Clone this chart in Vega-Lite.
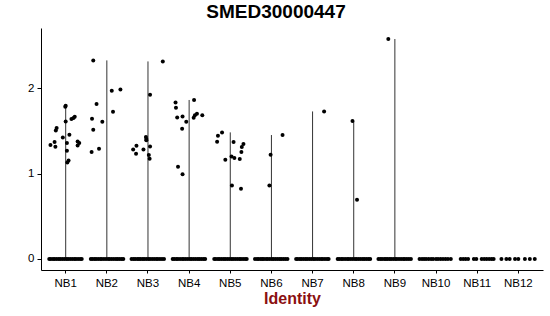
{
  "$schema": "https://vega.github.io/schema/vega-lite/v6.json",
  "autosize": "none",
  "width": 502,
  "height": 242,
  "padding": {"left": 41, "top": 28, "right": 7, "bottom": 46},
  "title": {"text": "SMED30000447", "font": "Liberation Sans", "fontSize": 19, "fontWeight": "bold", "color": "black", "anchor": "middle", "frame": "group", "dx": -16, "offset": 6},
  "config": {"view": {"stroke": null}, "axis": {"labelFont": "Liberation Sans", "titleFont": "Liberation Sans", "grid": false, "domainColor": "black", "tickColor": "black", "labelColor": "black"}},
  "data": {
    "values": [
      {"id": "NB1", "v": 1.333, "j": -0.37}, {"id": "NB1", "v": 1.368, "j": -0.27}, {"id": "NB1", "v": 1.313, "j": -0.25}, {"id": "NB1", "v": 1.504, "j": -0.24}, {"id": "NB1", "v": 1.532, "j": -0.22}, {"id": "NB1", "v": 1.422, "j": -0.07}, {"id": "NB1", "v": 1.780, "j": -0.01}, {"id": "NB1", "v": 1.792, "j": 0.0}, {"id": "NB1", "v": 1.609, "j": 0.0}, {"id": "NB1", "v": 1.357, "j": 0.03}, {"id": "NB1", "v": 1.267, "j": 0.03}, {"id": "NB1", "v": 1.153, "j": 0.07}, {"id": "NB1", "v": 1.130, "j": 0.04}, {"id": "NB1", "v": 1.454, "j": 0.09}, {"id": "NB1", "v": 1.637, "j": 0.14}, {"id": "NB1", "v": 1.649, "j": 0.19}, {"id": "NB1", "v": 1.664, "j": 0.22}, {"id": "NB1", "v": 1.375, "j": 0.29}, {"id": "NB1", "v": 1.357, "j": 0.33}, {"id": "NB1", "v": 1.329, "j": 0.29},
      {"id": "NB2", "v": 2.323, "j": -0.33}, {"id": "NB2", "v": 1.813, "j": -0.25}, {"id": "NB2", "v": 1.641, "j": -0.36}, {"id": "NB2", "v": 1.512, "j": -0.33}, {"id": "NB2", "v": 1.606, "j": -0.11}, {"id": "NB2", "v": 1.251, "j": -0.37}, {"id": "NB2", "v": 1.290, "j": -0.19}, {"id": "NB2", "v": 1.968, "j": 0.12}, {"id": "NB2", "v": 1.723, "j": 0.15}, {"id": "NB2", "v": 1.984, "j": 0.33},
      {"id": "NB3", "v": 2.311, "j": 0.36}, {"id": "NB3", "v": 1.922, "j": 0.05}, {"id": "NB3", "v": 1.282, "j": -0.36}, {"id": "NB3", "v": 1.325, "j": -0.28}, {"id": "NB3", "v": 1.232, "j": -0.29}, {"id": "NB3", "v": 1.282, "j": -0.11}, {"id": "NB3", "v": 1.427, "j": -0.05}, {"id": "NB3", "v": 1.404, "j": -0.04}, {"id": "NB3", "v": 1.388, "j": -0.04}, {"id": "NB3", "v": 1.317, "j": 0.05}, {"id": "NB3", "v": 1.216, "j": 0.02}, {"id": "NB3", "v": 1.173, "j": 0.04},
      {"id": "NB4", "v": 1.860, "j": 0.12}, {"id": "NB4", "v": 1.832, "j": -0.33}, {"id": "NB4", "v": 1.770, "j": -0.32}, {"id": "NB4", "v": 1.656, "j": -0.29}, {"id": "NB4", "v": 1.668, "j": -0.16}, {"id": "NB4", "v": 1.606, "j": -0.07}, {"id": "NB4", "v": 1.524, "j": -0.17}, {"id": "NB4", "v": 1.653, "j": 0.11}, {"id": "NB4", "v": 1.680, "j": 0.14}, {"id": "NB4", "v": 1.699, "j": 0.19}, {"id": "NB4", "v": 1.680, "j": 0.32}, {"id": "NB4", "v": 1.080, "j": -0.27}, {"id": "NB4", "v": 0.990, "j": -0.16},
      {"id": "NB5", "v": 1.481, "j": -0.20}, {"id": "NB5", "v": 1.442, "j": -0.30}, {"id": "NB5", "v": 1.372, "j": -0.32}, {"id": "NB5", "v": 1.161, "j": -0.12}, {"id": "NB5", "v": 1.368, "j": 0.08}, {"id": "NB5", "v": 1.200, "j": 0.03}, {"id": "NB5", "v": 1.181, "j": 0.10}, {"id": "NB5", "v": 1.170, "j": 0.23}, {"id": "NB5", "v": 1.251, "j": 0.27}, {"id": "NB5", "v": 1.310, "j": 0.28}, {"id": "NB5", "v": 1.345, "j": 0.32}, {"id": "NB5", "v": 0.861, "j": 0.04}, {"id": "NB5", "v": 0.822, "j": 0.26},
      {"id": "NB6", "v": 1.450, "j": 0.27}, {"id": "NB6", "v": 1.220, "j": -0.02}, {"id": "NB6", "v": 0.861, "j": -0.05},
      {"id": "NB7", "v": 1.726, "j": 0.28},
      {"id": "NB8", "v": 1.614, "j": -0.03}, {"id": "NB8", "v": 0.694, "j": 0.08},
      {"id": "NB9", "v": 2.573, "j": -0.16},
      {"id": "NB1", "v": 0, "j": -0.40}, {"id": "NB1", "v": 0, "j": -0.36}, {"id": "NB1", "v": 0, "j": -0.31}, {"id": "NB1", "v": 0, "j": -0.27}, {"id": "NB1", "v": 0, "j": -0.22}, {"id": "NB1", "v": 0, "j": -0.17}, {"id": "NB1", "v": 0, "j": -0.13}, {"id": "NB1", "v": 0, "j": -0.08}, {"id": "NB1", "v": 0, "j": -0.03}, {"id": "NB1", "v": 0, "j": 0.02}, {"id": "NB1", "v": 0, "j": 0.06}, {"id": "NB1", "v": 0, "j": 0.11}, {"id": "NB1", "v": 0, "j": 0.16}, {"id": "NB1", "v": 0, "j": 0.21}, {"id": "NB1", "v": 0, "j": 0.25}, {"id": "NB1", "v": 0, "j": 0.30}, {"id": "NB1", "v": 0, "j": 0.35}, {"id": "NB1", "v": 0, "j": 0.39},
      {"id": "NB2", "v": 0, "j": -0.39}, {"id": "NB2", "v": 0, "j": -0.35}, {"id": "NB2", "v": 0, "j": -0.30}, {"id": "NB2", "v": 0, "j": -0.26}, {"id": "NB2", "v": 0, "j": -0.21}, {"id": "NB2", "v": 0, "j": -0.16}, {"id": "NB2", "v": 0, "j": -0.12}, {"id": "NB2", "v": 0, "j": -0.07}, {"id": "NB2", "v": 0, "j": -0.02}, {"id": "NB2", "v": 0, "j": 0.03}, {"id": "NB2", "v": 0, "j": 0.07}, {"id": "NB2", "v": 0, "j": 0.12}, {"id": "NB2", "v": 0, "j": 0.17}, {"id": "NB2", "v": 0, "j": 0.22}, {"id": "NB2", "v": 0, "j": 0.26}, {"id": "NB2", "v": 0, "j": 0.31}, {"id": "NB2", "v": 0, "j": 0.36}, {"id": "NB2", "v": 0, "j": 0.40},
      {"id": "NB3", "v": 0, "j": -0.40}, {"id": "NB3", "v": 0, "j": -0.35}, {"id": "NB3", "v": 0, "j": -0.31}, {"id": "NB3", "v": 0, "j": -0.26}, {"id": "NB3", "v": 0, "j": -0.22}, {"id": "NB3", "v": 0, "j": -0.18}, {"id": "NB3", "v": 0, "j": -0.13}, {"id": "NB3", "v": 0, "j": -0.09}, {"id": "NB3", "v": 0, "j": -0.04}, {"id": "NB3", "v": 0, "j": 0.01}, {"id": "NB3", "v": 0, "j": 0.05}, {"id": "NB3", "v": 0, "j": 0.10}, {"id": "NB3", "v": 0, "j": 0.15}, {"id": "NB3", "v": 0, "j": 0.20}, {"id": "NB3", "v": 0, "j": 0.24}, {"id": "NB3", "v": 0, "j": 0.29}, {"id": "NB3", "v": 0, "j": 0.34}, {"id": "NB3", "v": 0, "j": 0.39},
      {"id": "NB4", "v": 0, "j": -0.40}, {"id": "NB4", "v": 0, "j": -0.36}, {"id": "NB4", "v": 0, "j": -0.31}, {"id": "NB4", "v": 0, "j": -0.27}, {"id": "NB4", "v": 0, "j": -0.22}, {"id": "NB4", "v": 0, "j": -0.17}, {"id": "NB4", "v": 0, "j": -0.13}, {"id": "NB4", "v": 0, "j": -0.08}, {"id": "NB4", "v": 0, "j": -0.03}, {"id": "NB4", "v": 0, "j": 0.02}, {"id": "NB4", "v": 0, "j": 0.06}, {"id": "NB4", "v": 0, "j": 0.11}, {"id": "NB4", "v": 0, "j": 0.16}, {"id": "NB4", "v": 0, "j": 0.21}, {"id": "NB4", "v": 0, "j": 0.25}, {"id": "NB4", "v": 0, "j": 0.30}, {"id": "NB4", "v": 0, "j": 0.35}, {"id": "NB4", "v": 0, "j": 0.39},
      {"id": "NB5", "v": 0, "j": -0.39}, {"id": "NB5", "v": 0, "j": -0.35}, {"id": "NB5", "v": 0, "j": -0.30}, {"id": "NB5", "v": 0, "j": -0.26}, {"id": "NB5", "v": 0, "j": -0.21}, {"id": "NB5", "v": 0, "j": -0.16}, {"id": "NB5", "v": 0, "j": -0.12}, {"id": "NB5", "v": 0, "j": -0.07}, {"id": "NB5", "v": 0, "j": -0.02}, {"id": "NB5", "v": 0, "j": 0.03}, {"id": "NB5", "v": 0, "j": 0.07}, {"id": "NB5", "v": 0, "j": 0.12}, {"id": "NB5", "v": 0, "j": 0.17}, {"id": "NB5", "v": 0, "j": 0.22}, {"id": "NB5", "v": 0, "j": 0.26}, {"id": "NB5", "v": 0, "j": 0.31}, {"id": "NB5", "v": 0, "j": 0.36}, {"id": "NB5", "v": 0, "j": 0.40},
      {"id": "NB6", "v": 0, "j": -0.40}, {"id": "NB6", "v": 0, "j": -0.35}, {"id": "NB6", "v": 0, "j": -0.31}, {"id": "NB6", "v": 0, "j": -0.26}, {"id": "NB6", "v": 0, "j": -0.22}, {"id": "NB6", "v": 0, "j": -0.18}, {"id": "NB6", "v": 0, "j": -0.13}, {"id": "NB6", "v": 0, "j": -0.09}, {"id": "NB6", "v": 0, "j": -0.04}, {"id": "NB6", "v": 0, "j": 0.01}, {"id": "NB6", "v": 0, "j": 0.05}, {"id": "NB6", "v": 0, "j": 0.10}, {"id": "NB6", "v": 0, "j": 0.15}, {"id": "NB6", "v": 0, "j": 0.20}, {"id": "NB6", "v": 0, "j": 0.24}, {"id": "NB6", "v": 0, "j": 0.29}, {"id": "NB6", "v": 0, "j": 0.34}, {"id": "NB6", "v": 0, "j": 0.39},
      {"id": "NB7", "v": 0, "j": -0.40}, {"id": "NB7", "v": 0, "j": -0.36}, {"id": "NB7", "v": 0, "j": -0.31}, {"id": "NB7", "v": 0, "j": -0.27}, {"id": "NB7", "v": 0, "j": -0.22}, {"id": "NB7", "v": 0, "j": -0.17}, {"id": "NB7", "v": 0, "j": -0.13}, {"id": "NB7", "v": 0, "j": -0.08}, {"id": "NB7", "v": 0, "j": -0.03}, {"id": "NB7", "v": 0, "j": 0.02}, {"id": "NB7", "v": 0, "j": 0.06}, {"id": "NB7", "v": 0, "j": 0.11}, {"id": "NB7", "v": 0, "j": 0.16}, {"id": "NB7", "v": 0, "j": 0.21}, {"id": "NB7", "v": 0, "j": 0.25}, {"id": "NB7", "v": 0, "j": 0.30}, {"id": "NB7", "v": 0, "j": 0.35}, {"id": "NB7", "v": 0, "j": 0.39},
      {"id": "NB8", "v": 0, "j": -0.39}, {"id": "NB8", "v": 0, "j": -0.35}, {"id": "NB8", "v": 0, "j": -0.30}, {"id": "NB8", "v": 0, "j": -0.26}, {"id": "NB8", "v": 0, "j": -0.21}, {"id": "NB8", "v": 0, "j": -0.16}, {"id": "NB8", "v": 0, "j": -0.12}, {"id": "NB8", "v": 0, "j": -0.07}, {"id": "NB8", "v": 0, "j": -0.02}, {"id": "NB8", "v": 0, "j": 0.03}, {"id": "NB8", "v": 0, "j": 0.07}, {"id": "NB8", "v": 0, "j": 0.12}, {"id": "NB8", "v": 0, "j": 0.17}, {"id": "NB8", "v": 0, "j": 0.22}, {"id": "NB8", "v": 0, "j": 0.26}, {"id": "NB8", "v": 0, "j": 0.31}, {"id": "NB8", "v": 0, "j": 0.36}, {"id": "NB8", "v": 0, "j": 0.40},
      {"id": "NB9", "v": 0, "j": -0.40}, {"id": "NB9", "v": 0, "j": -0.35}, {"id": "NB9", "v": 0, "j": -0.31}, {"id": "NB9", "v": 0, "j": -0.26}, {"id": "NB9", "v": 0, "j": -0.22}, {"id": "NB9", "v": 0, "j": -0.18}, {"id": "NB9", "v": 0, "j": -0.13}, {"id": "NB9", "v": 0, "j": -0.09}, {"id": "NB9", "v": 0, "j": -0.04}, {"id": "NB9", "v": 0, "j": 0.01}, {"id": "NB9", "v": 0, "j": 0.05}, {"id": "NB9", "v": 0, "j": 0.10}, {"id": "NB9", "v": 0, "j": 0.15}, {"id": "NB9", "v": 0, "j": 0.20}, {"id": "NB9", "v": 0, "j": 0.24}, {"id": "NB9", "v": 0, "j": 0.29}, {"id": "NB9", "v": 0, "j": 0.34}, {"id": "NB9", "v": 0, "j": 0.39},
      {"id": "NB10", "v": 0, "j": -0.40}, {"id": "NB10", "v": 0, "j": -0.34}, {"id": "NB10", "v": 0, "j": -0.29}, {"id": "NB10", "v": 0, "j": -0.24}, {"id": "NB10", "v": 0, "j": -0.18}, {"id": "NB10", "v": 0, "j": -0.12}, {"id": "NB10", "v": 0, "j": -0.07}, {"id": "NB10", "v": 0, "j": 0.0}, {"id": "NB10", "v": 0, "j": 0.05}, {"id": "NB10", "v": 0, "j": 0.11}, {"id": "NB10", "v": 0, "j": 0.17}, {"id": "NB10", "v": 0, "j": 0.23}, {"id": "NB10", "v": 0, "j": 0.29}, {"id": "NB10", "v": 0, "j": 0.36},
      {"id": "NB11", "v": 0, "j": -0.40}, {"id": "NB11", "v": 0, "j": -0.34}, {"id": "NB11", "v": 0, "j": -0.28}, {"id": "NB11", "v": 0, "j": -0.22}, {"id": "NB11", "v": 0, "j": -0.08}, {"id": "NB11", "v": 0, "j": -0.02}, {"id": "NB11", "v": 0, "j": 0.11}, {"id": "NB11", "v": 0, "j": 0.17}, {"id": "NB11", "v": 0, "j": 0.23}, {"id": "NB11", "v": 0, "j": 0.29}, {"id": "NB11", "v": 0, "j": 0.35}, {"id": "NB11", "v": 0, "j": 0.40},
      {"id": "NB12", "v": 0, "j": -0.41}, {"id": "NB12", "v": 0, "j": -0.29}, {"id": "NB12", "v": 0, "j": -0.21}, {"id": "NB12", "v": 0, "j": -0.08}, {"id": "NB12", "v": 0, "j": 0.0}, {"id": "NB12", "v": 0, "j": 0.16}, {"id": "NB12", "v": 0, "j": 0.28}, {"id": "NB12", "v": 0, "j": 0.40}
    ]
  },
  "encoding": {
    "x": {"field": "id", "type": "nominal", "sort": ["NB1", "NB2", "NB3", "NB4", "NB5", "NB6", "NB7", "NB8", "NB9", "NB10", "NB11", "NB12"], "scale": {"type": "band", "paddingInner": 0, "paddingOuter": 0.1}, "axis": {"title": "Identity", "labelAngle": 0, "labelFontSize": 11.5, "tickSize": 3, "labelPadding": 4, "titleFontSize": 16, "titleFontWeight": "bold", "titleColor": "#8B1010", "titlePadding": 2}}
  },
  "layer": [
    {
      "mark": {"type": "rule", "color": "#333333", "strokeWidth": 1},
      "encoding": {
        "y": {"field": "v", "aggregate": "min", "type": "quantitative", "scale": {"domain": [-0.1287, 2.702], "nice": false, "zero": false}, "axis": {"title": null, "values": [0, 1, 2], "format": "d", "tickSize": 4, "labelPadding": 3, "labelFontSize": 11.5}},
        "y2": {"field": "v", "aggregate": "max"}
      }
    },
    {
      "mark": {"type": "circle", "color": "black", "opacity": 1, "size": 16},
      "encoding": {
        "y": {"field": "v", "type": "quantitative"},
        "xOffset": {"field": "j", "type": "quantitative", "scale": {"domain": [-0.5, 0.5]}}
      }
    }
  ]
}
